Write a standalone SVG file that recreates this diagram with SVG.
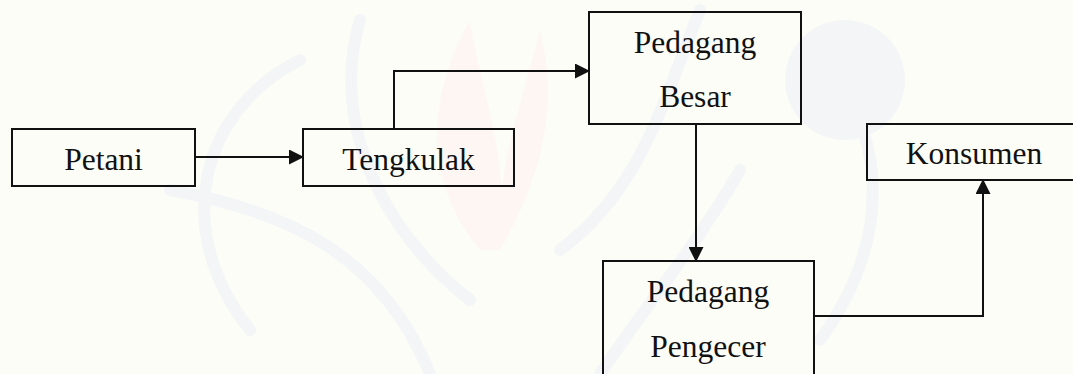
<svg xmlns="http://www.w3.org/2000/svg" width="1073" height="374" viewBox="0 0 1073 374">
  <style>
    .box { fill: none; stroke: #111; stroke-width: 2; }
    .lbl { font-size: 31.5px; fill: #111; text-anchor: middle; }
    .link { fill: none; stroke: #111; stroke-width: 2; }
    .wm { fill: none; stroke: #f3f5f6; stroke-width: 12; stroke-linecap: round; }
    .wmfill { fill: #f4f5f6; }
    .wmpink { fill: #fdf6f2; }
  </style>
  <defs>
    <marker id="arrow" markerUnits="userSpaceOnUse" markerWidth="15" markerHeight="15" refX="14" refY="7.5" orient="auto">
      <path d="M0,0 L15,7.5 L0,15 z" fill="#111"/>
    </marker>
  </defs>

  <rect width="1073" height="374" fill="#fdfdf8"/>

  <!-- faint background emblem -->
  <g id="emblem">
    <path class="wmpink" d="M480,250 C430,190 420,110 470,20 C480,90 510,150 500,250 z"/>
    <path class="wmpink" d="M500,250 C540,180 560,110 540,30 C520,110 495,170 500,250 z"/>
    <path class="wm" d="M300,60 C200,110 170,230 250,330"/>
    <path class="wm" d="M170,190 C280,210 380,250 430,374"/>
    <path class="wm" d="M360,20 C330,120 380,230 470,300"/>
    <path class="wm" d="M820,60 C880,120 900,230 820,340"/>
    <path class="wm" d="M740,170 C700,240 650,300 600,374"/>
    <path class="wm" d="M700,10 C660,110 640,190 560,250"/>
    <ellipse class="wmfill" cx="845" cy="80" rx="60" ry="60"/>
  </g>

  <g id="connectors">
    <line class="link" x1="195" y1="157" x2="303" y2="157" marker-end="url(#arrow)"/>
    <polyline class="link" points="394,129 394,71 589,71" marker-end="url(#arrow)"/>
    <line class="link" x1="696" y1="124" x2="696" y2="261" marker-end="url(#arrow)"/>
    <polyline class="link" points="814,316 983,316 983,180" marker-end="url(#arrow)"/>
  </g>

  <g font-family="'Liberation Serif', 'Times New Roman', Times, serif">
    <g id="petani">
      <rect class="box" x="12" y="129" width="183" height="57"/>
      <text class="lbl" x="103.5" y="170">Petani</text>
    </g>

    <g id="tengkulak">
      <rect class="box" x="303" y="129" width="211" height="57"/>
      <text class="lbl" x="408.5" y="170">Tengkulak</text>
    </g>

    <g id="pedagang-besar">
      <rect class="box" x="589" y="12" width="212" height="112"/>
      <text class="lbl" x="695" y="53">Pedagang</text>
      <text class="lbl" x="695" y="107">Besar</text>
    </g>

    <g id="konsumen">
      <rect class="box" x="867" y="124" width="215" height="56"/>
      <text class="lbl" x="974" y="164">Konsumen</text>
    </g>

    <g id="pedagang-pengecer">
      <rect class="box" x="603" y="261" width="211" height="130"/>
      <text class="lbl" x="708" y="302">Pedagang</text>
      <text class="lbl" x="708" y="357">Pengecer</text>
    </g>
  </g>
</svg>
